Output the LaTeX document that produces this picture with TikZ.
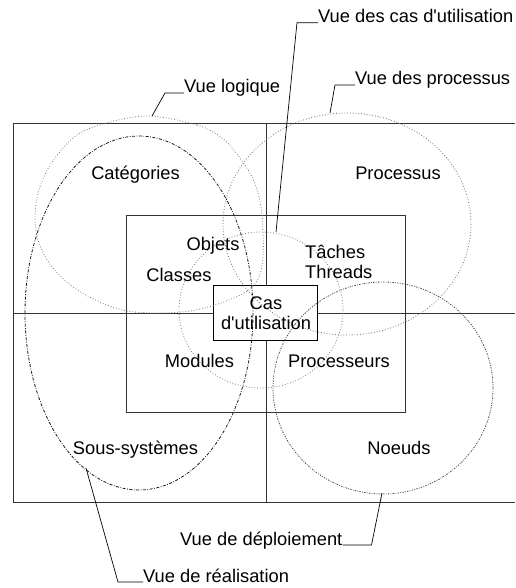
\documentclass[tikz,border=0pt]{standalone}
\usepackage{fontspec}
\setmainfont{Liberation Sans}[Ligatures=TeXOff]
\begin{document}
\begin{tikzpicture}[x=1pt,y=-1pt,
  frame/.style={line width=1pt, draw=black!80},
  lbl/.style={inner sep=0pt, anchor=base, font=\fontsize{18.3pt}{20pt}\selectfont},
  lead/.style={line width=0.7pt, draw=black},
  vlog/.style={line width=0.85pt, draw=black!50, dash pattern=on 0.8pt off 2pt},
  vproc/.style={line width=0.85pt, draw=black!55, dash pattern=on 0.8pt off 2pt},
  vcas/.style={line width=0.85pt, draw=black!48, dash pattern=on 0.8pt off 2pt},
  vreal/.style={line width=0.8pt, draw=black!90, dash pattern=on 3pt off 1.5pt on 0.8pt off 1.5pt},
  vdep/.style={line width=0.8pt, draw=black!70, dash pattern=on 1.5pt off 1.3pt on 0.7pt off 1.3pt},
]
\useasboundingbox (0,0) rectangle (515,588);
\fill[white] (0,0) rectangle (515,588);
% frame and quadrants
\draw[frame] (515,124) -- (13,124) -- (13,502) -- (515,502);
\draw[frame] (266,124) -- (266,502);
\draw[frame] (13,313) -- (515,313);
\draw[frame] (126,215) rectangle (405,412);
\draw[frame, draw=black, fill=white] (213,285) rectangle (317,340);
% views
\draw[vlog] plot[smooth cycle, tension=0.55] coordinates {
 (150,116) (197,125) (222,138) (240,158) (254,181) (261,207) (263,232) (263,258)
 (259,277) (250,289) (236,297) (215,305) (190,311) (160,313) (127,311) (100,302)
 (73,287) (52,267) (39,243) (35,217) (39,190) (52,162) (77,135) (110,122)};
\draw[vproc] (347,224) ellipse [x radius=124, y radius=111];
\draw[vcas] (261,310) ellipse [x radius=82, y radius=78];
\draw[vreal] (139,313) ellipse [x radius=114, y radius=177];
\draw[vdep] (383,388) ellipse [x radius=110, y radius=106];
% labels
\node[lbl] (cat) at (135.5,179) {Catégories};
\node[lbl] (proc) at (398,179) {Processus};
\node[lbl] (obj) at (213,250) {Objets};
\node[lbl] (cla) at (179,281) {Classes};
\node[lbl, anchor=base west] (tac) at (305,258) {Tâches};
\node[lbl, anchor=base west] (thr) at (305,278) {Threads};
\node[lbl] (cas1) at (266,309) {Cas};
\node[lbl] (cas2) at (266,329) {d'utilisation};
\node[lbl] (mod) at (199.5,367) {Modules};
\node[lbl] (prc) at (339,367) {Processeurs};
\node[lbl] (sss) at (135.5,454) {Sous-systèmes};
\node[lbl] (noe) at (399,454) {Noeuds};
% view names and leaders
\coordinate (pcas) at (276,232);
\coordinate (pproc) at (330,113);
\coordinate (plog) at (152,116);
\coordinate (pdep) at (382,493);
\coordinate (preal) at (86,468);
\node[lbl, anchor=base west] (tcas) at (318,22.7) {Vue des cas d'utilisation};
\node[lbl, anchor=base west] (tproc) at (355,85) {Vue des processus};
\node[lbl, anchor=base west] (tlog) at (184,93) {Vue logique};
\node[lbl, anchor=base west] (tdep) at (180,545) {Vue de déploiement};
\node[lbl, anchor=base west] (treal) at (143,582) {Vue de réalisation};
\draw[lead] (tcas.base west) -- ++(-21,0) -- (pcas);
\draw[lead] (tproc.base west) -- ++(-20,0) -- (pproc);
\draw[lead] (tlog.base west) -- ++(-19,0) -- (plog);
\draw[lead] (tdep.base east) -- ++(29,0) -- (pdep);
\draw[lead] (treal.base west) -- ++(-25,0) -- (preal);
\end{tikzpicture}
\end{document}
